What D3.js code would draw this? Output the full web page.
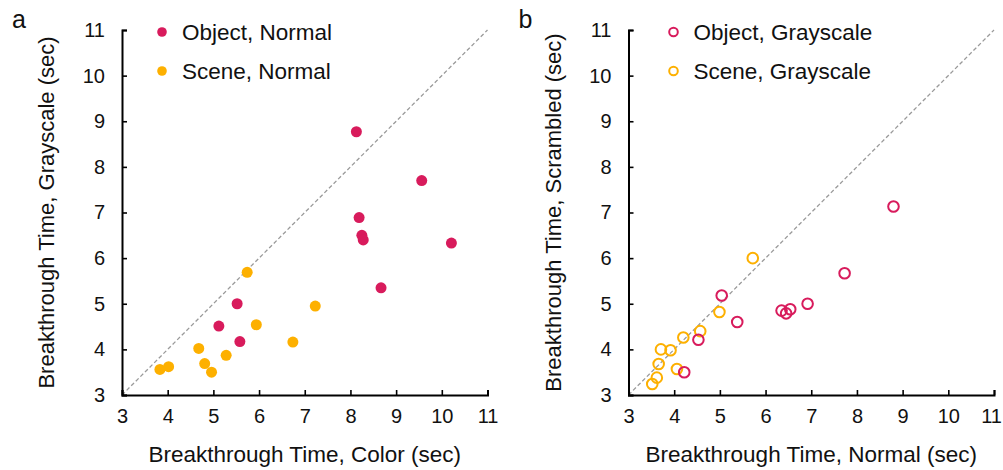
<!DOCTYPE html>
<html><head><meta charset="utf-8">
<script src="https://cdn.jsdelivr.net/npm/d3@7"></script>
<style>
html,body{margin:0;padding:0;background:#fff;}
svg text{font-family:"Liberation Sans",Arial,Helvetica,sans-serif;fill:#111;}
</style></head>
<body><svg id="chart" width="1003" height="470"></svg>
<script>
// ---- data ----
const tickValues = [3,4,5,6,7,8,9,10,11];
const objectNormalColor   = [8.13,9.56,8.19,8.25,8.28,10.21,8.67,5.52,5.12,5.58];
const objectNormalGray    = [8.77,7.70,6.89,6.50,6.40,6.33,5.35,5.00,4.51,4.17];
const sceneNormalColor    = [5.74,7.23,5.94,6.74,4.68,5.28,4.81,4.96,4.02,3.83];
const sceneNormalGray     = [5.69,4.95,4.54,4.16,4.02,3.87,3.69,3.50,3.62,3.56];
const objectGrayNormal    = [8.80,7.73,6.92,6.54,6.45,6.35,5.38,5.04,4.53,4.22];
const objectGrayScrambled = [7.13,5.67,5.00,4.88,4.79,4.85,4.60,5.18,4.21,3.50];
const sceneGrayNormal     = [5.72,4.99,4.57,4.20,3.71,3.92,3.66,4.06,3.62,3.52];
const sceneGrayScrambled  = [6.00,4.82,4.40,4.26,4.00,3.98,3.68,3.57,3.38,3.24];

const panels = [
  {label:"a", ox:122, legX:40, xTitle:"Breakthrough Time, Color (sec)", yTitle:"Breakthrough Time, Grayscale (sec)", filled:true,
   series:[{name:"Object, Normal", color:"#d81b5c", xs:objectNormalColor, ys:objectNormalGray},
           {name:"Scene, Normal",  color:"#fdb000", xs:sceneNormalColor,  ys:sceneNormalGray}]},
  {label:"b", ox:628.5, legX:45, xTitle:"Breakthrough Time, Normal (sec)", yTitle:"Breakthrough Time, Scrambled (sec)", filled:false,
   series:[{name:"Object, Grayscale", color:"#d81b5c", xs:objectGrayNormal, ys:objectGrayScrambled},
           {name:"Scene, Grayscale",  color:"#fdb000", xs:sceneGrayNormal,  ys:sceneGrayScrambled}]}
];

const svg = d3.select("#chart");
const W = 365.5, H = 365, topY = 30;

panels.forEach(p => {
  const g = svg.append("g").attr("transform", `translate(${p.ox},${topY})`);
  const x = d3.scaleLinear().domain([3,11]).range([0,W]);
  const y = d3.scaleLinear().domain([3,11]).range([H,0]);

  // diagonal
  g.append("line")
    .attr("x1", x(3)).attr("y1", y(3)).attr("x2", x(11)).attr("y2", y(11))
    .attr("stroke","#9a9a9a").attr("stroke-width",1.3).attr("stroke-dasharray","4,2.5");

  // axes
  const xa = g.append("g").attr("transform",`translate(0,${H})`)
    .call(d3.axisBottom(x).tickValues(tickValues).tickSize(-5).tickPadding(14).tickFormat(d3.format("d")));
  const ya = g.append("g")
    .call(d3.axisLeft(y).tickValues(tickValues).tickSize(-5).tickPadding(17).tickFormat(d3.format("d")));
  [xa,ya].forEach(a=>{
    a.select(".domain").attr("stroke","#000").attr("stroke-width",2);
    a.selectAll(".tick line").attr("stroke","#000").attr("stroke-width",1.6);
    a.selectAll(".tick text").style("font-size","20px").attr("fill","#111");
  });
  // keep the last x tick label of the right panel inside the page
  if (p.label === "b") {
    xa.selectAll(".tick text").filter(d => d === 11).attr("dx", -3);
  }

  // titles
  g.append("text").attr("x", W/2).attr("y", H+67).attr("text-anchor","middle")
    .style("font-size","22.5px").text(p.xTitle);
  g.append("text").attr("transform",`translate(${-68},${H/2}) rotate(-90)`).attr("text-anchor","middle")
    .style("font-size","22px").text(p.yTitle);
  g.append("text").attr("x",-110).attr("y",-2).style("font-size","25px").text(p.label);

  // points
  p.series.slice().reverse().forEach(s => {
    const pts = s.xs.map((v,i)=>[v, s.ys[i]]);
    g.selectAll(null).data(pts).enter().append("circle")
      .attr("cx", d=>x(d[0])).attr("cy", d=>y(d[1]))
      .attr("r", p.filled ? 5.5 : 5.3)
      .attr("fill", p.filled ? s.color : "none")
      .attr("stroke", p.filled ? "none" : s.color)
      .attr("stroke-width", 2);
  });

  // legend
  p.series.forEach((s,i) => {
    const ly = 2 + i*39;
    g.append("circle").attr("cx", p.legX).attr("cy", ly).attr("r", p.filled ? 4.8 : 4.3)
      .attr("fill", p.filled ? s.color : "none")
      .attr("stroke", p.filled ? "none" : s.color).attr("stroke-width", 2);
    g.append("text").attr("x", p.legX + 20).attr("y", ly + 8).style("font-size","22.5px").text(s.name);
  });
});
</script></body></html>
